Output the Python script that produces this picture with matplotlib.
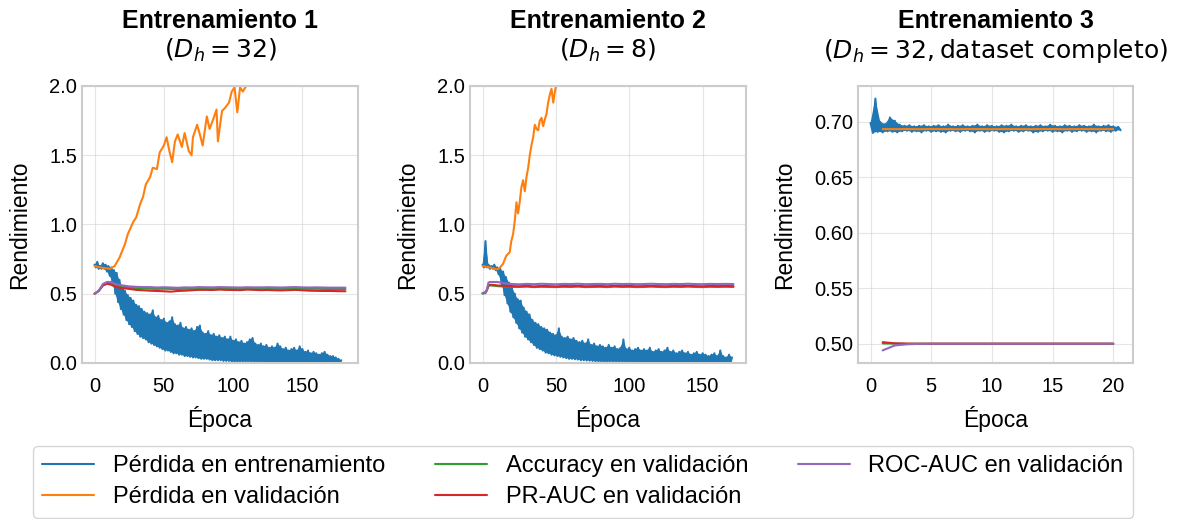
import numpy as np
import matplotlib
matplotlib.use('Agg')
from matplotlib import pyplot as plt

# ---- Entrenamiento 1 (D_h = 32) ----
# perdida de entrenamiento: picos (epocas pares) y valles (epocas impares)
tr1_hi = [0.71, 0.73, 0.70, 0.72, 0.71, 0.70, 0.69, 0.67, 0.65, 0.60,
          0.55, 0.52, 0.49, 0.47, 0.45, 0.42, 0.41, 0.39, 0.37, 0.36,
          0.35, 0.38, 0.33, 0.34, 0.31, 0.32, 0.29, 0.30, 0.33, 0.28,
          0.27, 0.29, 0.25, 0.26, 0.24, 0.25, 0.23, 0.26, 0.27, 0.22,
          0.21, 0.23, 0.20, 0.21, 0.19, 0.20, 0.18, 0.19, 0.17, 0.19,
          0.16, 0.17, 0.15, 0.16, 0.14, 0.15, 0.17, 0.18, 0.14, 0.13,
          0.14, 0.12, 0.13, 0.11, 0.12, 0.11, 0.14, 0.12, 0.10, 0.11,
          0.09, 0.10, 0.11, 0.09, 0.12, 0.10, 0.08, 0.09, 0.07, 0.08,
          0.07, 0.06, 0.07, 0.08, 0.06, 0.05, 0.05, 0.04, 0.03, 0.02]
tr1_lo = [0.69, 0.68, 0.68, 0.68, 0.66, 0.63, 0.58, 0.50, 0.44, 0.39,
          0.35, 0.31, 0.28, 0.26, 0.23, 0.21, 0.19, 0.18, 0.17, 0.15,
          0.14, 0.13, 0.12, 0.11, 0.10, 0.09, 0.09, 0.08, 0.07, 0.07,
          0.06, 0.06, 0.05, 0.05, 0.045, 0.04, 0.04, 0.035, 0.03, 0.03,
          0.03, 0.025, 0.02, 0.02, 0.02, 0.02, 0.015, 0.015, 0.015, 0.01,
          0.01, 0.01, 0.01, 0.01, 0.01, 0.01, 0.01, 0.008, 0.008, 0.008,
          0.008, 0.008, 0.007, 0.007, 0.007, 0.007, 0.006, 0.006, 0.006, 0.006,
          0.006, 0.005, 0.005, 0.005, 0.005, 0.005, 0.005, 0.005, 0.005, 0.004,
          0.004, 0.004, 0.004, 0.004, 0.004, 0.003, 0.003, 0.003, 0.003]
# perdida de validacion
vl1_x = [0, 4, 11, 14.5, 18, 22, 24, 28, 30, 33, 35, 37, 40, 42, 45, 47, 50, 52,
         54, 56, 58, 60, 63, 65, 68, 70, 71, 74, 76, 78, 81, 83, 86, 88, 89, 91,
         92, 94, 97, 99, 101, 103, 105, 107, 110, 113]
vl1_y = [0.70, 0.69, 0.68, 0.70, 0.76, 0.86, 0.93, 1.02, 1.05, 1.15, 1.20, 1.29,
         1.34, 1.41, 1.40, 1.52, 1.57, 1.63, 1.53, 1.45, 1.60, 1.65, 1.56, 1.66,
         1.53, 1.50, 1.63, 1.72, 1.65, 1.57, 1.78, 1.69, 1.77, 1.83, 1.60, 1.75,
         1.82, 1.84, 1.88, 1.96, 1.99, 1.81, 1.99, 1.96, 2.01, 2.08]
# metricas de validacion
m1_x = [0, 3, 6, 9, 12, 15, 20, 25, 30, 35, 40, 45, 50, 55, 60, 65, 70, 75, 80,
        85, 90, 95, 100, 105, 110, 115, 120, 125, 130, 135, 140, 145, 150, 155,
        160, 165, 170, 175, 181]
roc1 = [0.50, 0.52, 0.57, 0.585, 0.585, 0.57, 0.56, 0.553, 0.55, 0.548, 0.548,
        0.545, 0.547, 0.545, 0.543, 0.546, 0.545, 0.548, 0.547, 0.546, 0.548,
        0.547, 0.546, 0.545, 0.547, 0.546, 0.546, 0.547, 0.546, 0.545, 0.547,
        0.548, 0.546, 0.545, 0.546, 0.545, 0.544, 0.544, 0.544]
acc1 = [0.50, 0.52, 0.56, 0.575, 0.57, 0.56, 0.55, 0.545, 0.54, 0.538, 0.537,
        0.535, 0.536, 0.535, 0.534, 0.536, 0.535, 0.537, 0.537, 0.536, 0.538,
        0.537, 0.536, 0.535, 0.537, 0.536, 0.536, 0.537, 0.536, 0.535, 0.537,
        0.538, 0.536, 0.535, 0.536, 0.535, 0.534, 0.534, 0.534]
pr1 = [0.50, 0.52, 0.56, 0.572, 0.565, 0.55, 0.54, 0.535, 0.528, 0.525, 0.522,
       0.520, 0.518, 0.515, 0.520, 0.522, 0.525, 0.528, 0.528, 0.527, 0.530,
       0.528, 0.527, 0.526, 0.530, 0.528, 0.526, 0.527, 0.525, 0.524, 0.526,
       0.528, 0.525, 0.522, 0.521, 0.520, 0.520, 0.519, 0.518]

# ---- Entrenamiento 2 (D_h = 8) ----
tr2_hi = [0.71, 0.88, 0.71, 0.70, 0.71, 0.69, 0.68, 0.66, 0.62, 0.58,
          0.55, 0.50, 0.46, 0.45, 0.40, 0.37, 0.35, 0.31, 0.29, 0.28,
          0.26, 0.25, 0.24, 0.22, 0.21, 0.20, 0.25, 0.19, 0.18, 0.19,
          0.17, 0.18, 0.16, 0.15, 0.16, 0.14, 0.17, 0.13, 0.14, 0.12,
          0.13, 0.12, 0.11, 0.13, 0.11, 0.12, 0.10, 0.11, 0.17, 0.10,
          0.11, 0.09, 0.10, 0.11, 0.09, 0.10, 0.09, 0.11, 0.08, 0.09,
          0.10, 0.08, 0.09, 0.11, 0.08, 0.09, 0.07, 0.08, 0.09, 0.07,
          0.08, 0.06, 0.07, 0.08, 0.06, 0.07, 0.06, 0.05, 0.06, 0.07,
          0.05, 0.09, 0.05, 0.04, 0.06, 0.04]
tr2_lo = [0.69, 0.69, 0.68, 0.68, 0.67, 0.64, 0.57, 0.49, 0.43, 0.37,
          0.33, 0.29, 0.25, 0.22, 0.19, 0.17, 0.15, 0.13, 0.11, 0.10,
          0.09, 0.075, 0.07, 0.06, 0.055, 0.05, 0.045, 0.04, 0.035, 0.03,
          0.03, 0.027, 0.025, 0.02, 0.02, 0.018, 0.017, 0.015, 0.013, 0.012,
          0.01, 0.01, 0.01, 0.01, 0.01, 0.009, 0.009, 0.009, 0.008, 0.008,
          0.008, 0.008, 0.007, 0.007, 0.007, 0.007, 0.007, 0.006, 0.006, 0.006,
          0.006, 0.006, 0.005, 0.005, 0.005, 0.005, 0.005, 0.005, 0.005, 0.005,
          0.004, 0.004, 0.004, 0.004, 0.004, 0.004, 0.004, 0.003, 0.003, 0.003,
          0.003, 0.003, 0.003, 0.003, 0.003]
vl2_x = [0, 5, 10, 12, 13.9, 16.2, 18.5, 19.6, 20.8, 21.9, 23.1, 24.2, 25.3, 26.5,
         27.6, 28.8, 29.9, 31.1, 32.2, 33.3, 34.5, 35.6, 36.8, 37.9, 39.0, 40.2,
         41.3, 42.5, 43.6, 44.7, 45.9, 47.0, 48.2, 49.3, 50.5]
vl2_y = [0.70, 0.69, 0.675, 0.69, 0.715, 0.775, 0.80, 0.88, 0.93, 1.02, 1.16, 1.08,
         1.16, 1.27, 1.32, 1.24, 1.34, 1.41, 1.50, 1.57, 1.63, 1.72, 1.69, 1.68,
         1.75, 1.77, 1.71, 1.76, 1.80, 1.88, 1.94, 1.98, 1.88, 1.96, 2.02]
m2_x = [0, 2, 3, 4, 5, 8, 10, 15, 20, 25, 30, 35, 40, 45, 50, 55, 60, 65, 70, 75,
        80, 85, 90, 95, 100, 105, 110, 115, 120, 125, 130, 135, 140, 145, 150,
        155, 160, 165, 171]
roc2 = [0.505, 0.51, 0.53, 0.58, 0.585, 0.585, 0.585, 0.575, 0.57, 0.568, 0.571,
        0.569, 0.572, 0.570, 0.568, 0.571, 0.570, 0.572, 0.569, 0.570, 0.571,
        0.569, 0.572, 0.570, 0.571, 0.569, 0.570, 0.572, 0.570, 0.569, 0.571,
        0.570, 0.572, 0.570, 0.569, 0.571, 0.570, 0.571, 0.570]
acc2 = [0.50, 0.505, 0.525, 0.555, 0.56, 0.558, 0.555, 0.552, 0.55, 0.549, 0.551,
        0.548, 0.550, 0.549, 0.548, 0.550, 0.549, 0.551, 0.548, 0.549, 0.550,
        0.548, 0.551, 0.549, 0.550, 0.548, 0.549, 0.551, 0.549, 0.548, 0.550,
        0.549, 0.551, 0.549, 0.548, 0.550, 0.549, 0.550, 0.549]
pr2 = [0.505, 0.51, 0.53, 0.56, 0.565, 0.563, 0.56, 0.557, 0.555, 0.554, 0.557,
       0.553, 0.556, 0.555, 0.553, 0.556, 0.555, 0.557, 0.554, 0.555, 0.556,
       0.554, 0.557, 0.555, 0.556, 0.554, 0.555, 0.557, 0.555, 0.554, 0.556,
       0.555, 0.557, 0.555, 0.554, 0.556, 0.555, 0.556, 0.555]

# ---- Entrenamiento 3 (D_h = 32, dataset completo) ----
tr3_hi = [0.699, 0.721, 0.700, 0.698, 0.704, 0.701, 0.6975, 0.6965, 0.697, 0.696,
          0.6965, 0.697, 0.696, 0.6965, 0.697, 0.696, 0.6975, 0.696, 0.6965, 0.697,
          0.696, 0.6965, 0.6975, 0.696, 0.697, 0.6965, 0.696, 0.697, 0.6965, 0.6975,
          0.696, 0.6965, 0.697, 0.696, 0.6965, 0.697, 0.696, 0.6975, 0.6965, 0.696,
          0.697, 0.6965, 0.696, 0.697, 0.6965, 0.696, 0.6975, 0.696, 0.6965, 0.697,
          0.696, 0.6955]
tr3_lo = [0.690, 0.691, 0.6905, 0.6915, 0.691, 0.6905, 0.6915, 0.692, 0.691, 0.6915,
          0.6905, 0.692, 0.691, 0.6915, 0.691, 0.6905, 0.692, 0.6915, 0.691, 0.692,
          0.6915, 0.6905, 0.692, 0.691, 0.6915, 0.692, 0.691, 0.6905, 0.6915, 0.692,
          0.691, 0.6915, 0.692, 0.6905, 0.691, 0.6915, 0.692, 0.691, 0.6915, 0.6905,
          0.692, 0.691, 0.6915, 0.692, 0.691, 0.6915, 0.6905, 0.692, 0.6915, 0.691,
          0.692, 0.6925]
m3_x = list(range(1, 21))
vl3 = [0.6935, 0.6934, 0.6935, 0.6934, 0.6935, 0.6935, 0.6934, 0.6935, 0.6935, 0.6934,
       0.6935, 0.6935, 0.6934, 0.6935, 0.6935, 0.6934, 0.6935, 0.6935, 0.6934, 0.6935]
acc3 = [0.5003, 0.5001] + [0.5] * 18
pr3 = [0.5014, 0.5004, 0.5001] + [0.5] * 17
roc3 = [0.494, 0.4985, 0.4995, 0.4999] + [0.5] * 16

labels = ['Pérdida en entrenamiento', 'Pérdida en validación',
          'Accuracy en validación', 'PR-AUC en validación', 'ROC-AUC en validación']


def draw_train(ax, hi, lo, step):
    # picos en posiciones pares, valles en impares
    x_hi = step * 2 * np.arange(len(hi))
    x_lo = step * (2 * np.arange(len(lo)) + 1)
    xs = np.empty(len(hi) + len(lo))
    ys = np.empty(len(hi) + len(lo))
    xs[0::2], ys[0::2] = x_hi, hi
    xs[1::2], ys[1::2] = x_lo, lo
    ax.fill(np.concatenate([x_hi, x_lo[::-1]]), np.concatenate([hi, lo[::-1]]),
            color='C0', lw=0)
    ax.plot(xs, ys, c='C0', lw=1.5, label=labels[0])


plt.style.use('seaborn-v0_8-whitegrid')
plt.rcParams['font.family'] = ['Liberation Sans', 'DejaVu Sans']
plt.rcParams['mathtext.fontset'] = 'dejavusans'
for k in ['text.color', 'axes.labelcolor', 'xtick.color', 'ytick.color']:
    plt.rcParams[k] = 'black'

fig = plt.figure(figsize=(11.83, 5.19), dpi=100)
ax1 = fig.add_axes([0.0693, 0.3006, 0.2333, 0.5337])
ax2 = fig.add_axes([0.3973, 0.3006, 0.2333, 0.5337])
ax3 = fig.add_axes([0.7253, 0.3006, 0.2325, 0.5337])

panels = [
    (ax1, (tr1_hi, tr1_lo, 1.0), (vl1_x, vl1_y), m1_x, acc1, pr1, roc1,
     'Entrenamiento 1\n$(D_h = 32)$'),
    (ax2, (tr2_hi, tr2_lo, 1.0), (vl2_x, vl2_y), m2_x, acc2, pr2, roc2,
     'Entrenamiento 2\n$(D_h = 8)$'),
    (ax3, (tr3_hi, tr3_lo, 0.2), (m3_x, vl3), m3_x, acc3, pr3, roc3,
     'Entrenamiento 3\n$(D_h = 32, \\mathrm{dataset\\ completo})$'),
]

for ax, tr, vl, mx, acc, pr, roc, title in panels:
    draw_train(ax, *tr)
    ax.plot(vl[0], vl[1], c='C1', lw=1.5, label=labels[1])
    ax.plot(mx, acc, c='C2', lw=1.5, label=labels[2])
    ax.plot(mx, pr, c='C3', lw=1.5, label=labels[3])
    ax.plot(mx, roc, c='C4', lw=1.5, label=labels[4])
    ax.set_title(title, fontsize=18, fontweight='bold', pad=20)
    ax.set_xlabel('Época', fontsize=16.5, labelpad=7)
    ax.set_ylabel('Rendimiento', fontsize=16.5, labelpad=13)
    ax.tick_params(axis='both', labelsize=14.5)
    ax.tick_params(axis='x', pad=10)
    ax.grid(True, color='0.8', alpha=0.5)
    for s in ax.spines.values():
        s.set_color('0.8')
        s.set_linewidth(1.5)

ax1.set_ylim(0, 2.0)
ax2.set_ylim(0, 2.0)
ax3.set_xticks([0, 5, 10, 15, 20])

handles, labs = ax1.get_legend_handles_labels()
fig.legend(handles, labs, loc='upper left', bbox_to_anchor=(0.0279, 0.0039, 0.9298, 0.1368),
           mode='expand', ncol=3, fontsize=17, frameon=True, edgecolor='0.8',
           borderaxespad=0, handlelength=2.2, labelspacing=0.38)

fig.savefig('out.png', dpi=100)
